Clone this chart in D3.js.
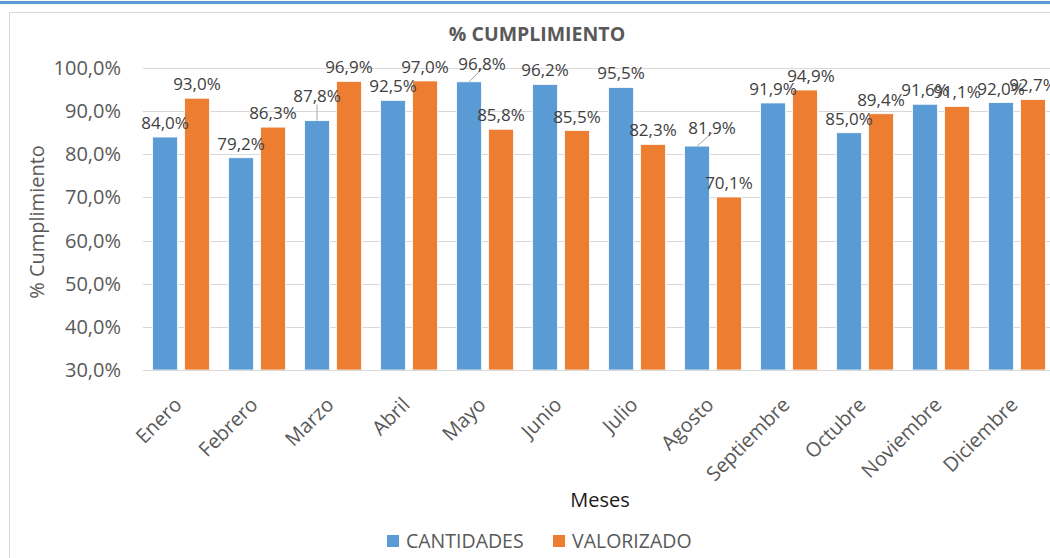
<!DOCTYPE html>
<html>
<head>
<meta charset="utf-8">
<script src="https://cdn.jsdelivr.net/npm/d3@7"></script>
<style>
  body { margin: 0; background: #fff; }
  text { font-family: "Open Sans", "Noto Sans", sans-serif; }
</style>
</head>
<body>
<script>
// months on the x axis
var months = ["Enero","Febrero","Marzo","Abril","Mayo","Junio","Julio","Agosto",
              "Septiembre","Octubre","Noviembre","Diciembre"];
var seriesNames = ["CANTIDADES","VALORIZADO"];
var cantidades = [84.0, 79.2, 87.8, 92.5, 96.8, 96.2, 95.5, 81.9, 91.9, 85.0, 91.6, 92.0];
var valorizado = [93.0, 86.3, 96.9, 97.0, 85.8, 85.5, 82.3, 70.1, 94.9, 89.4, 91.1, 92.7];
var yTicks = [30, 40, 50, 60, 70, 80, 90, 100];

var colors = {CANTIDADES: "#5B9BD5", VALORIZADO: "#ED7D31"};

// labels that were dragged around in the original (dx, dy, leader line)
var labelNudge = {
  "CANTIDADES-Marzo":   {dx: 0,  dy: -11, leader: true},
  "CANTIDADES-Mayo":    {dx: 13, dy: -4,  leader: true},
  "CANTIDADES-Agosto":  {dx: 15, dy: -4,  leader: true},
  "VALORIZADO-Septiembre": {dx: 6, dy: 0, leader: false}
};

var W = 1050, H = 558;
var svg = d3.select("body").append("svg").attr("width", W).attr("height", H);

// top accent line and chart frame
svg.append("rect").attr("x", 0).attr("y", 1).attr("width", W).attr("height", 3).attr("fill", "#5B9BD5");
svg.append("rect").attr("x", 9.5).attr("y", 12.5).attr("width", 1100).attr("height", 600)
   .attr("fill", "#fff").attr("stroke", "#d9d9d9");

var x0 = d3.scaleBand().domain(months).range([143, 1055]);
var x1 = d3.scaleBand().domain(seriesNames).range([0, x0.bandwidth()])
           .paddingInner(0.22).paddingOuter(0.3);
var y = d3.scaleLinear().domain([30, 100]).range([370, 68]);

var fmt = function(v){ return d3.format(".1f")(v).replace(".", ",") + "%"; };

// gridlines
svg.append("g").selectAll("line").data(yTicks).enter().append("line")
   .attr("x1", 143).attr("x2", W)
   .attr("y1", function(d){ return Math.round(y(d)) + 0.5; })
   .attr("y2", function(d){ return Math.round(y(d)) + 0.5; })
   .attr("stroke", "#d9d9d9").attr("stroke-width", 1);

// y tick labels
svg.append("g").selectAll("text").data(yTicks).enter().append("text")
   .attr("x", 121).attr("y", function(d){ return y(d); }).attr("dy", "0.35em")
   .attr("text-anchor", "end").attr("font-size", 20).attr("fill", "#595959")
   .text(fmt);

var rows = [];
months.forEach(function(m, i){
  rows.push({month: m, series: "CANTIDADES", value: cantidades[i]});
  rows.push({month: m, series: "VALORIZADO", value: valorizado[i]});
});

// bars
svg.append("g").selectAll("rect").data(rows).enter().append("rect")
   .attr("x", function(d){ return x0(d.month) + x1(d.series); })
   .attr("y", function(d){ return y(d.value); })
   .attr("width", x1.bandwidth())
   .attr("height", function(d){ return y(30) - y(d.value); })
   .attr("fill", function(d){ return colors[d.series]; })
   .attr("stroke", "#fff").attr("stroke-width", 0.8);

// data labels
var lbl = svg.append("g");
rows.forEach(function(d){
  var cx = x0(d.month) + x1(d.series) + x1.bandwidth() / 2;
  var top = y(d.value);
  var n = labelNudge[d.series + "-" + d.month] || {dx: 0, dy: 0, leader: false};
  var lx = cx + n.dx, ly = top - 8 + n.dy;
  if (n.leader) {
    var ex = n.dx === 0 ? cx : lx;
    var ey = n.dx === 0 ? ly + 3 : ly - 1;
    lbl.append("line").attr("x1", cx).attr("y1", top).attr("x2", ex).attr("y2", ey)
       .attr("stroke", "#a6a6a6").attr("stroke-width", 1);
  }
  lbl.append("text").attr("x", lx).attr("y", ly)
     .attr("text-anchor", "middle").attr("font-size", 17).attr("fill", "#404040")
     .text(fmt(d.value));
});

// x axis line and month labels
svg.append("line").attr("x1", 143).attr("x2", W).attr("y1", 370.5).attr("y2", 370.5)
   .attr("stroke", "#d9d9d9");
svg.append("g").selectAll("text").data(months).enter().append("text")
   .attr("transform", function(d){
     return "translate(" + (x0(d) + x0.bandwidth() / 2 + 2) + ",406) rotate(-45)";
   })
   .attr("text-anchor", "end").attr("font-size", 20).attr("fill", "#595959")
   .text(function(d){ return d; });

// titles
svg.append("text").attr("x", 537).attr("y", 41).attr("text-anchor", "middle")
   .attr("font-size", 19.5).attr("font-weight", "bold").attr("fill", "#595959")
   .text("% CUMPLIMIENTO");
svg.append("text").attr("transform", "translate(44,222) rotate(-90)")
   .attr("text-anchor", "middle").attr("font-size", 20).attr("fill", "#595959")
   .text("% Cumplimiento");
svg.append("text").attr("x", 600).attr("y", 507).attr("text-anchor", "middle")
   .attr("font-size", 20).attr("fill", "#1a1a1a").text("Meses");

// legend
var legX = [387, 553];
var leg = svg.append("g").selectAll("g").data(seriesNames).enter().append("g")
   .attr("transform", function(d, i){ return "translate(" + legX[i] + ",535)"; });
leg.append("rect").attr("width", 12).attr("height", 12)
   .attr("fill", function(d){ return colors[d]; });
leg.append("text").attr("x", 19).attr("y", 6).attr("dy", "0.35em")
   .attr("font-size", 19.5).attr("fill", "#595959").text(function(d){ return d; });
</script>
</body>
</html>
